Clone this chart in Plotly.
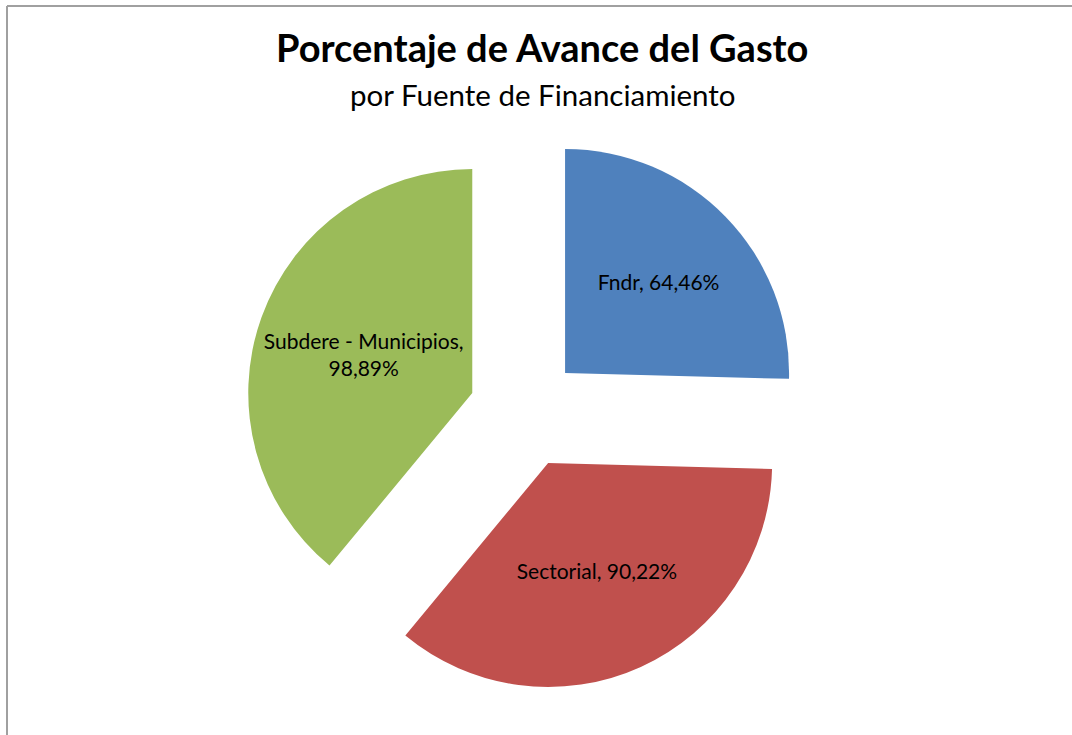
import plotly.graph_objects as go

# Data
categories = ["Fndr", "Sectorial", "Subdere - Municipios"]
values = [64.46, 90.22, 98.89]
colors = ["#4F81BD", "#C0504D", "#9BBB59"]
title_text = "Porcentaje de Avance del Gasto"
subtitle_text = "por Fuente de Financiamiento"


def fmt(v):
    return f"{v:.2f}".replace(".", ",") + "%"


labels_text = []
for c, v in zip(categories, values):
    sep = ",<br>" if len(c) > 12 else ", "
    labels_text.append(f"{c}{sep}{fmt(v)}")

FONT = "Lato"

fig = go.Figure(
    go.Pie(
        labels=categories,
        values=values,
        text=labels_text,
        textinfo="text",
        textposition="inside",
        insidetextorientation="horizontal",
        textfont=dict(family=FONT, size=21, color="#000000"),
        marker=dict(colors=colors, line=dict(width=0)),
        sort=False,
        direction="clockwise",
        rotation=0,
        pull=[0.25, 0.25, 0.25],
        showlegend=False,
        hoverinfo="label+value",
        domain=dict(x=[0.2285, 0.7509], y=[0.0585, 0.8204]),
    )
)

border = dict(color="#A0A0A0", width=2)
fig.update_layout(
    width=1072,
    height=735,
    margin=dict(l=0, r=0, t=0, b=0),
    paper_bgcolor="white",
    plot_bgcolor="white",
    font=dict(family=FONT, color="#000000"),
    annotations=[
        dict(text=f"<b>{title_text}</b>", x=542 / 1072, y=1 - 47 / 735,
             xref="paper", yref="paper", xanchor="center", yanchor="middle",
             showarrow=False, font=dict(family=FONT, size=38, color="#000000")),
        dict(text=subtitle_text, x=543 / 1072, y=1 - 94 / 735,
             xref="paper", yref="paper", xanchor="center", yanchor="middle",
             showarrow=False, font=dict(family=FONT, size=29.5, color="#000000")),
    ],
    shapes=[
        dict(type="line", xref="paper", yref="paper",
             x0=7 / 1072, x1=1, y0=1 - 6 / 735, y1=1 - 6 / 735, line=border),
        dict(type="line", xref="paper", yref="paper",
             x0=7 / 1072, x1=7 / 1072, y0=0, y1=1 - 6 / 735, line=border),
    ],
)

fig.write_html(
    "out.html",
    config={"displayModeBar": False},
    post_script="document.body.style.margin='0';document.body.style.overflow='hidden';",
)
